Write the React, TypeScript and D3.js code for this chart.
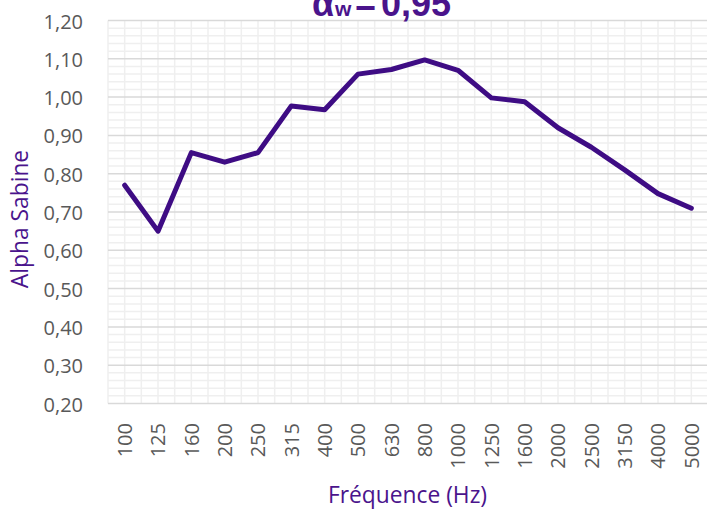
import * as d3 from 'd3';

const WIDTH = 707;
const HEIGHT = 509;
const PLOT = { left: 108, right: 708, top: 20.5, bottom: 403.5 };

const frequencies = ['100', '125', '160', '200', '250', '315', '400', '500', '630', '800', '1000', '1250', '1600', '2000', '2500', '3150', '4000', '5000'];
const alphaValues = [0.77, 0.65, 0.855, 0.83, 0.855, 0.977, 0.967, 1.06, 1.072, 1.097, 1.07, 0.998, 0.988, 0.92, 0.869, 0.81, 0.748, 0.71];
const yMajorTicks = [0.2, 0.3, 0.4, 0.5, 0.6, 0.7, 0.8, 0.9, 1.0, 1.1, 1.2];

const LINE_COLOR = '#3e0c84';
const TEXT_PURPLE = '#4a148c';
const FONT = '"Open Sans", sans-serif';
const TITLE_FONT = '"Liberation Sans", Arial, sans-serif';

const App = () => {
  const x = d3.scaleBand<string>().domain(frequencies).range([PLOT.left, PLOT.right]).padding(0);
  const y = d3.scaleLinear().domain([0.2, 1.2]).range([PLOT.bottom, PLOT.top]);

  const fmt = (v: number) => d3.format('.2f')(v).replace('.', ',');

  // minor gridlines every 0.02
  const minorY = d3.range(0, 51).map((i) => 0.2 + i * 0.02).filter((v) => Math.round(v * 100) % 10 !== 0);
  // vertical lines at category edges and centres
  const half = x.step() / 2;
  const vLines = d3.range(0, frequencies.length * 2 + 1).map((i) => PLOT.left + i * half);

  const line = d3
    .line<number>()
    .x((_, i) => (x(frequencies[i]) || 0) + x.bandwidth() / 2)
    .y((d) => y(d));

  return (
    <svg width={WIDTH} height={HEIGHT} style={{ position: 'absolute', left: 0, top: 0 }}>
      <rect width={WIDTH} height={HEIGHT} fill="#fff" />
      {/* grid */}
      {vLines.map((vx, i) => (
        <line key={'v' + i} x1={vx} x2={vx} y1={PLOT.top} y2={PLOT.bottom} stroke="#efefef" strokeWidth={1.5} />
      ))}
      {minorY.map((v, i) => (
        <line key={'m' + i} x1={PLOT.left} x2={PLOT.right} y1={y(v)} y2={y(v)} stroke="#efefef" strokeWidth={1.5} />
      ))}
      {yMajorTicks.map((v) => (
        <line key={'M' + v} x1={PLOT.left} x2={PLOT.right} y1={y(v)} y2={y(v)} stroke="#d9d9d9" strokeWidth={1.5} />
      ))}

      {/* y labels */}
      {yMajorTicks.map((v) => (
        <text key={'yl' + v} x={83} y={y(v)} dy="0.4em" textAnchor="end" fontFamily={FONT} fontSize={20} fill="#595959">
          {fmt(v)}
        </text>
      ))}

      {/* x labels */}
      {frequencies.map((f) => {
        const cx = (x(f) || 0) + x.bandwidth() / 2;
        return (
          <text
            key={'xl' + f}
            transform={`translate(${cx},423) rotate(-90)`}
            dy="0.36em"
            textAnchor="end"
            fontFamily={FONT}
            fontSize={20}
            fill="#595959"
          >
            {f}
          </text>
        );
      })}

      {/* data line */}
      <path d={line(alphaValues) || ''} fill="none" stroke={LINE_COLOR} strokeWidth={5} strokeLinejoin="round" strokeLinecap="round" />

      {/* axis titles */}
      <text x={407.5} y={503} textAnchor="middle" fontFamily={FONT} fontSize={22.8} fill={TEXT_PURPLE}>
        Fréquence (Hz)
      </text>
      <text transform="translate(28,219) rotate(-90)" textAnchor="middle" fontFamily={FONT} fontSize={22.8} fill={TEXT_PURPLE}>
        Alpha Sabine
      </text>

      {/* title, partly cut off by the top edge like the original */}
      <text y={16} fontFamily={TITLE_FONT} fontWeight="bold" fill={TEXT_PURPLE}>
        <tspan x={312} fontSize={36}>α</tspan>
        <tspan x={335} fontSize={21}>w</tspan>
        <tspan x={355} fontSize={36}>=</tspan>
        <tspan x={381} fontSize={36}>0,95</tspan>
      </text>
    </svg>
  );
};

export default App;
